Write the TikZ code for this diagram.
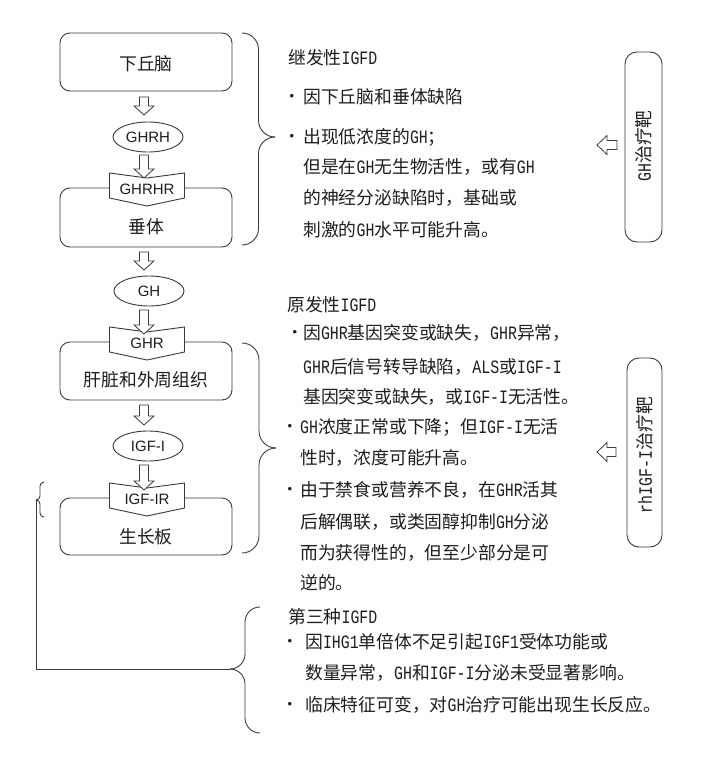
\documentclass[tikz,border=0pt]{standalone}
\usepackage{fontspec}
\setmainfont{Noto Sans CJK SC}
\newfontfamily\mlat{Liberation Mono}[Scale=1.06, FakeStretch=0.79]
\newfontfamily\sanslat{Liberation Sans}
\usetikzlibrary{shapes.geometric}
\definecolor{ink}{HTML}{1E1E1E}
\definecolor{ln}{HTML}{3A3A3A}
\newcommand\Lx[1]{{\mlat #1}}
\newcommand\DnArrow[3]{\draw[harrow] (#1-4.5,#2) -- (#1-4.5,#3-9) -- (#1-10,#3-9) -- (#1,#3) -- (#1+10,#3-9) -- (#1+4.5,#3-9) -- (#1+4.5,#2) -- cycle;}
\newcommand\LfArrow[3]{\draw[harrow] (#2,#3-4.5) -- (#1+10,#3-4.5) -- (#1+10,#3-9.5) -- (#1,#3) -- (#1+10,#3+9.5) -- (#1+10,#3+4.5) -- (#2,#3+4.5) -- cycle;}
\newcommand\Rcpt[3]{\draw[rcp] (147-37.5,#2-15) -- (147,#2-10) -- (147+37.5,#2-15) -- (147+37.5,#2+10) -- (147,#2+18) -- (147-37.5,#2+10) -- cycle;
  \node[rlab] (#1) at (147,#2+1) {#3};}
% brace: x0, ytop, ybot, ymid, h
\newcommand\Brc[5]{\draw[brc,rounded corners=#5pt] (#1,#2) -- (#1+#5,#2) -- (#1+#5,#4) -- (#1+#5+#5,#4);
  \draw[brc,rounded corners=#5pt] (#1+#5+#5,#4) -- (#1+#5,#4) -- (#1+#5,#3) -- (#1,#3);}
\newcommand\BrcL[5]{\draw[brc,rounded corners=#5pt] (#1,#2) -- (#1-#5,#2) -- (#1-#5,#4) -- (#1-#5-#5,#4);
  \draw[brc,rounded corners=#5pt] (#1-#5-#5,#4) -- (#1-#5,#4) -- (#1-#5,#3) -- (#1,#3);}
\tikzset{
  box/.style={draw=ln, line width=0.9pt, rounded corners=10pt, minimum width=172pt, inner sep=0pt},
  rbox/.style={draw=ln, line width=0.9pt, rounded corners=12pt, inner sep=0pt},
  ell/.style={draw=ln, line width=0.9pt, ellipse, minimum width=70pt, minimum height=30pt, inner sep=0pt,
    font=\sanslat\fontsize{15}{15}\selectfont, text=ink},
  lab/.style={font=\fontsize{17.8}{20}\selectfont, text=ink, inner sep=0pt},
  txt/.style={lab, anchor=west},
  bul/.style={font=\sanslat\fontsize{13}{13}\selectfont, text=ink, inner sep=0pt},
  rlab/.style={font=\sanslat\fontsize{15}{15}\selectfont, text=ink, inner sep=0pt},
  harrow/.style={draw=ln, line width=0.8pt, fill=white, line join=miter},
  rcp/.style={draw=ln, line width=0.9pt, fill=white},
  brc/.style={draw=ln, line width=0.9pt},
}
\begin{document}
\begin{tikzpicture}[x=1pt,y=-1pt]
\useasboundingbox[fill=white] (0,0) rectangle (720,757);
% main boxes
\node[box, minimum height=58pt] (hyp) at (146,62) {};
\node[box, minimum height=59pt] (pit) at (146,217.5) {};
\node[box, minimum height=58pt] (liv) at (146,371) {};
\node[box, minimum height=57pt] (gp) at (146,526.5) {};
\node[lab] (hypL) at (146,64) {下丘脑};
\node[lab] (pitL) at (146,227) {垂体};
\node[lab] (livL) at (146,380) {肝脏和外周组织};
\node[lab] (gpL) at (146,537) {生长板};
% ellipses
\node[ell] (ghrh) at (148,137) {GHRH};
\node[ell] (gh) at (149,291) {GH};
\node[ell] (igf) at (148,446) {IGF-I};
% receptors
\Rcpt{ghrhr}{188}{GHRHR}
\Rcpt{ghr}{342}{GHR}
\Rcpt{igfr}{498}{IGF-IR}
% hollow arrows
\DnArrow{144}{97}{115}
\DnArrow{144}{155}{178}
\DnArrow{144}{252}{270}
\DnArrow{144}{310}{334}
\DnArrow{144}{405}{425}
\DnArrow{144}{465}{490}
% braces
\Brc{242}{33}{245}{137}{16.5}
\Brc{242}{343}{553}{448}{17}
\BrcL{260}{607}{733}{669}{15}
\BrcL{44}{482}{517}{500}{4}
\coordinate (sbtip) at (36,500);
\coordinate (b3tip) at (230,669);
\draw[brc] (sbtip) |- (b3tip);
% right target boxes
\node[rbox, minimum width=37pt, minimum height=190pt] (gtx) at (643.5,147) {};
\node[lab, rotate=90] (gtxL) at (644,146) {\Lx{GH}治疗靶};
\node[rbox, minimum width=35pt, minimum height=189pt] (rtx) at (644.5,452.5) {};
\node[lab, rotate=90] (rtxL) at (645,455) {\Lx{rhIGF-I}治疗靶};
\LfArrow{597}{617}{145}
\LfArrow{597}{616}{452}
% group 1
\node[txt] (t1) at (288,58) {继发性\Lx{IGFD}};
\node[bul] (b11) at (292,97) {•};
\node[txt] (t11) at (303,97) {因下丘脑和垂体缺陷};
\node[bul] (b12) at (292,137) {•};
\node[txt] (t12) at (303,137) {出现低浓度的\Lx{GH}；};
\node[txt] (t13) at (303,167) {但是在\Lx{GH}无生物活性，或有\Lx{GH}};
\node[txt] (t14) at (303,198) {的神经分泌缺陷时，基础或};
\node[txt] (t15) at (303,230) {刺激的\Lx{GH}水平可能升高。};
% group 2
\node[txt] (t2) at (287,305) {原发性\Lx{IGFD}};
\node[bul] (b21) at (295,333) {•};
\node[txt] (t21) at (303,333) {因\Lx{GHR}基因突变或缺失，\Lx{GHR}异常，};
\node[txt] (t22) at (303,367) {\Lx{GHR}后信号转导缺陷，\Lx{ALS}或\Lx{IGF-I}};
\node[txt] (t23) at (303,397) {基因突变或缺失，或\Lx{IGF-I}无活性。};
\node[bul] (b22) at (290,427) {•};
\node[txt] (t24) at (300,427) {\Lx{GH}浓度正常或下降；但\Lx{IGF-I}无活};
\node[txt] (t25) at (300,458) {性时，浓度可能升高。};
\node[bul] (b23) at (290,490) {•};
\node[txt] (t26) at (300,490) {由于禁食或营养不良，在\Lx{GHR}活其};
\node[txt] (t27) at (300,522) {后解偶联，或类固醇抑制\Lx{GH}分泌};
\node[txt] (t28) at (300,553) {而为获得性的，但至少部分是可};
\node[txt] (t29) at (300,583) {逆的。};
% group 3
\node[txt] (t3) at (288,617) {第三种\Lx{IGFD}};
\node[bul] (b31) at (290,642) {•};
\node[txt] (t31) at (305,642) {因\Lx{IHG1}单倍体不足引起\Lx{IGF1}受体功能或};
\node[txt] (t32) at (305,673) {数量异常，\Lx{GH}和\Lx{IGF-I}分泌未受显著影响。};
\node[bul] (b32) at (290,705) {•};
\node[txt] (t33) at (305,705) {临床特征可变，对\Lx{GH}治疗可能出现生长反应。};
\end{tikzpicture}
\end{document}
